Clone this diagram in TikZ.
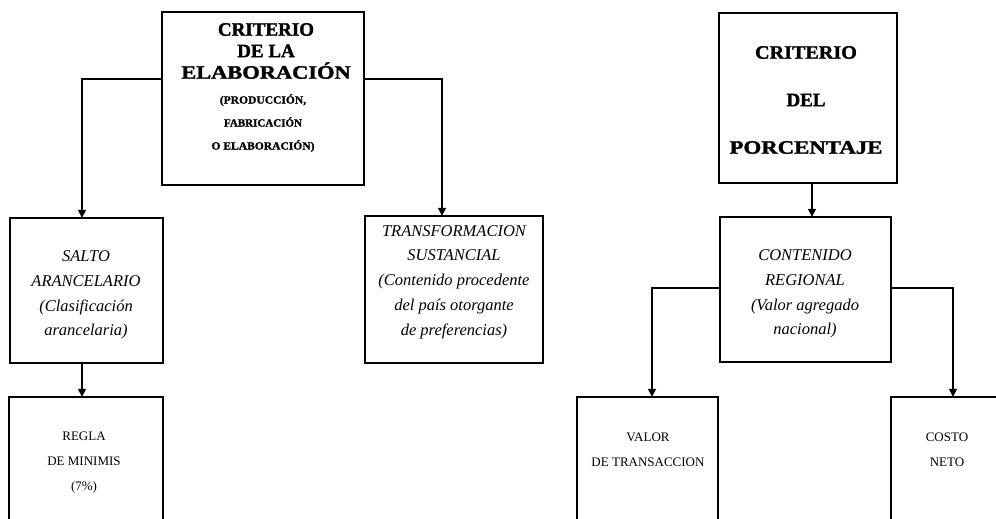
\documentclass[tikz,border=0pt]{standalone}
\usepackage{fontspec}
\setmainfont{Liberation Serif}
\newfontfamily\heavyfont{Liberation Serif}[BoldFeatures={FakeBold=1.6}]
\usetikzlibrary{arrows.meta}
\begin{document}
\begin{tikzpicture}[x=1pt,y=-1pt,
  box/.style={draw, line width=2.8pt, rectangle},
  conn/.style={line width=1.6pt, -{Triangle[width=8pt,length=8pt]}},
  heavy/.style={align=center, inner sep=0pt},
  ital/.style={font=\itshape\fontsize{16.5}{24.8}\selectfont, align=center, inner sep=0pt},
  plain/.style={font=\fontsize{13}{25}\selectfont, align=center, inner sep=0pt}]
\clip (0,0) rectangle (996,519);
\fill[white] (0,0) rectangle (996,519);
% boxes
\path[box] (162,12) rectangle (364,185);
\node (crit1) at (263,98.5) [minimum width=202pt, minimum height=173pt] {};
\path[box] (719,13) rectangle (897,183);
\node (crit2) at (808,98) [minimum width=178pt, minimum height=170pt] {};
\path[box] (10,218) rectangle (163,363);
\node (salto) at (86.5,290.5) [minimum width=153pt, minimum height=145pt] {};
\path[box] (365,216) rectangle (543,363);
\node (transf) at (454,289.5) [minimum width=178pt, minimum height=147pt] {};
\path[box] (720,217) rectangle (891,362);
\node (cont) at (805.5,289.5) [minimum width=171pt, minimum height=145pt] {};
\path[box] (9,397) rectangle (163,540);
\node (regla) at (86,468.5) [minimum width=154pt, minimum height=143pt] {};
\path[box] (577,397) rectangle (718,540);
\node (valor) at (647.5,468.5) [minimum width=141pt, minimum height=143pt] {};
\path[box] (891,397) rectangle (1010,540);
\node (costo) at (950.5,468.5) [minimum width=119pt, minimum height=143pt] {};
% texts
\node[heavy, font=\heavyfont\bfseries\fontsize{19}{21.5}\selectfont] (t1a) at (266,51)
  {CRITERIO\\DE LA\\\scalebox{1.18}[1]{ELABORACIÓN}};
\node[heavy, font=\heavyfont\bfseries\fontsize{11}{23}\selectfont] (t1b) at (263,123)
  {\scalebox{1.05}[1]{(PRODUCCIÓN,}\\FABRICACIÓN\\\scalebox{1.05}[1]{O ELABORACIÓN)}};
\node[heavy, font=\heavyfont\bfseries\fontsize{19}{47.5}\selectfont] (t2) at (806,100)
  {\scalebox{1.06}[1]{CRITERIO}\\DEL\\\scalebox{1.2}[1]{PORCENTAJE}};
\node[ital] (t3) at (86,295) {SALTO\\ARANCELARIO\\(Clasificación\\arancelaria)};
\node[ital] (t4) at (454,282) {TRANSFORMACION\\SUSTANCIAL\\(Contenido procedente\\del país otorgante\\de preferencias)};
\node[ital] (t5) at (805,294) {CONTENIDO\\REGIONAL\\(Valor agregado\\nacional)};
\node[plain] (t6) at (84,463) {REGLA\\DE MINIMIS\\(7\%)};
\node[plain] (t7) at (648,450) {VALOR\\DE TRANSACCION};
\node[plain] (t8) at (947,450) {COSTO\\NETO};
% connectors
\draw[conn] (crit1.west |- 0,79) -| (salto.north -| 82,0);
\draw[conn] (crit1.east |- 0,79) -| (transf.north -| 442,0);
\draw[conn] (salto.south -| 82,0) -- (regla.north -| 82,0);
\draw[conn] (crit2.south -| 812,0) -- (cont.north -| 812,0);
\draw[conn] (cont.west |- 0,288) -| (valor.north -| 652,0);
\draw[conn] (cont.east |- 0,288) -| (costo.north -| 953,0);
\end{tikzpicture}
\end{document}
